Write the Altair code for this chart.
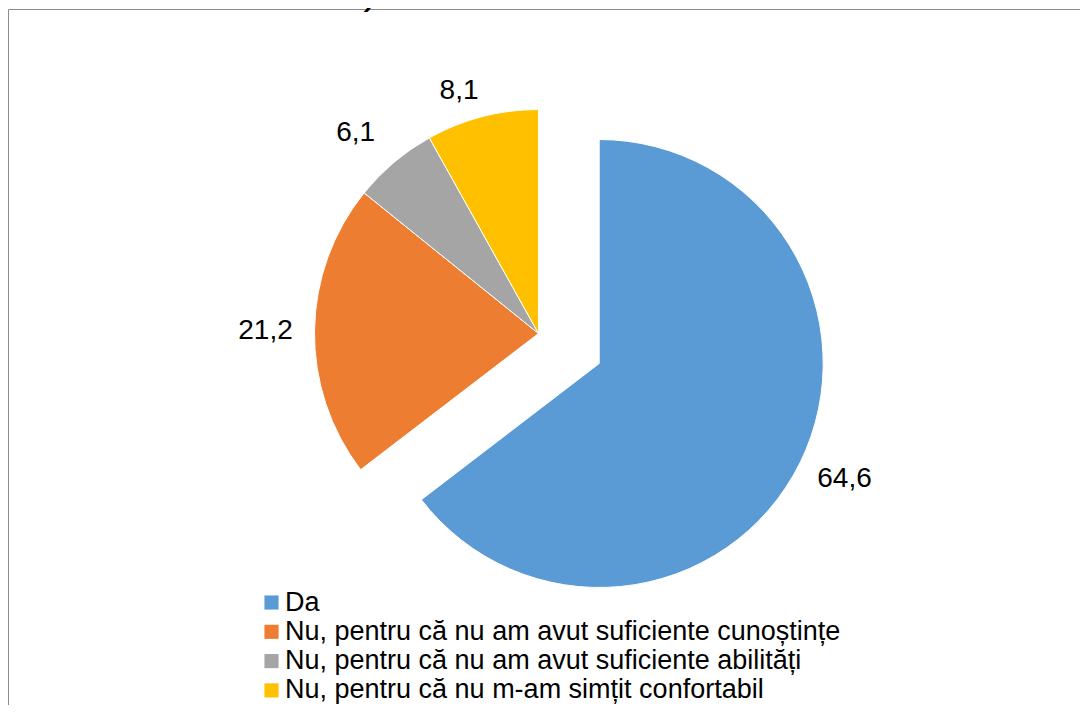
import altair as alt
import pandas as pd

categories = [
    "Da",
    "Nu, pentru că nu am avut suficiente cunoștințe",
    "Nu, pentru că nu am avut suficiente abilități",
    "Nu, pentru că nu m-am simțit confortabil",
]
values = [64.6, 21.2, 6.1, 8.1]
colors = ["#5B9BD5", "#ED7D31", "#A5A5A5", "#FFC000"]
title_fragment = "să fii fată / e bine să fii băiat)"

df = pd.DataFrame({"category": categories, "value": values, "order": list(range(len(categories)))})

FONT = "Liberation Sans"
R = 224
EXPLODE_X, EXPLODE_Y = 60.7, 30.0
# label nudges (Excel "best fit" placement)
label_nudge = {0: (5, -3), 1: (-5, 1), 2: (-10, 4), 3: (-12, 17)}

base = (
    alt.Chart(df)
    .transform_window(cum="sum(value)", sort=[alt.SortField("order")], frame=[None, 0])
    .transform_calculate(
        start="datum.cum - datum.value",
        mid="datum.cum - datum.value / 2",
        label="replace(format(datum.value, '.1f'), '.', ',')",
    )
)

theta_scale = alt.Scale(domain=[0, 100])
color_enc = alt.Color(
    "category:N",
    scale=alt.Scale(domain=categories, range=colors),
    legend=alt.Legend(
        title=None,
        orient="none",
        legendX=249,
        legendY=579,
        symbolType="square",
        symbolSize=200,
        symbolStrokeWidth=0,
        labelFont=FONT,
        labelFontSize=27,
        labelColor="#000000",
        labelOffset=0,
        rowPadding=1.3,
        padding=0,
        labelLimit=900,
    ),
)

arc_enc = dict(
    theta=alt.Theta("start:Q", scale=theta_scale),
    theta2="cum:Q",
    color=color_enc,
)

da_arc = base.transform_filter("datum.order == 0").mark_arc(
    outerRadius=R, stroke="white", strokeWidth=1, xOffset=EXPLODE_X, yOffset=EXPLODE_Y
).encode(**arc_enc)

rest_arc = base.transform_filter("datum.order > 0").mark_arc(
    outerRadius=R, stroke="white", strokeWidth=1
).encode(**arc_enc)

text_layers = []
for i in range(len(categories)):
    ndx, ndy = label_nudge[i]
    ox, oy = (EXPLODE_X, EXPLODE_Y) if i == 0 else (0, 0)
    text_layers.append(
        base.transform_filter(f"datum.order == {i}")
        .mark_text(
            font=FONT, fontSize=28, color="#000000", align="center", baseline="middle",
            radius=268, xOffset=ox + ndx, yOffset=oy + ndy,
        )
        .encode(theta=alt.Theta("mid:Q", scale=theta_scale, stack=None), text="label:N")
    )

frame = alt.Chart(pd.DataFrame({"f": [0]})).mark_rect(
    filled=False, stroke="#8c8c8c", strokeWidth=1
).encode(x=alt.value(-0.5), y=alt.value(-0.5), x2=alt.value(3000), y2=alt.value(3000))

title = alt.Chart(pd.DataFrame({"t": [title_fragment]})).mark_text(
    font=FONT, fontSize=27, fontStyle="italic", fontWeight="bold", align="left",
    baseline="alphabetic", color="#000000",
).encode(text="t:N", x=alt.value(0), y=alt.value(-4))

chart = (
    alt.layer(frame, rest_arc, da_arc, *text_layers, title)
    .properties(
        width=1059,
        height=647,
        padding={"left": 1, "top": 2, "right": 12, "bottom": 48},
        autosize=alt.AutoSizeParams(type="none"),
    )
    .configure_view(stroke=None)
)

chart.save("out.html", embed_options={"renderer": "svg", "actions": False})
